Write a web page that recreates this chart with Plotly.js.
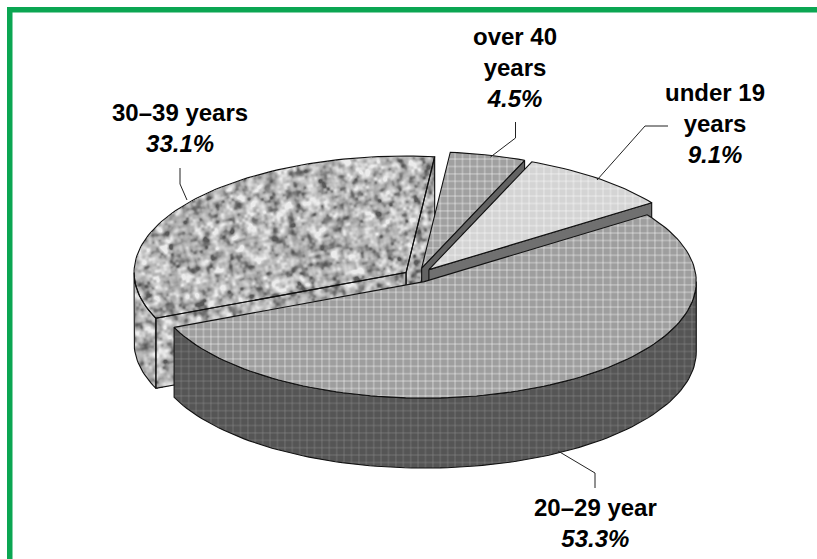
<!DOCTYPE html>
<html><head><meta charset="utf-8">
<script src="https://cdn.plot.ly/plotly-3.0.1.min.js"></script>
<style>html,body{margin:0;padding:0;background:#fff}#c{width:817px;height:559px}</style></head>
<body><div id="c"></div>
<script>
// Data
const categories = ['20–29 year', '30–39 years', 'over 40 years', 'under 19 years'];
const percentages = [53.3, 33.1, 4.5, 9.1];
const labelLines = ['20–29 year', '30–39 years', 'over 40<br>years', 'under 19<br>years'];
const explodeBy = [0.055, 0.05, 0.07, 0.07];

// Pie projection, in pixel-mapped axis units
const CX = 417, CY = 276, RX = 272, RY = 116.5, DEPTH = 70, START = -35;
const INK = '#111';
const rad = d => d * Math.PI / 180;

// Slice geometry from the values
let acc = START;
const slices = percentages.map((p, i) => {
  const a0 = acc, a1 = acc + p * 3.6; acc = a1;
  const mid = rad((a0 + a1) / 2);
  return {i, a0, a1, ax: CX + explodeBy[i] * RX * Math.cos(mid), ay: CY + explodeBy[i] * RY * Math.sin(mid)};
});
const pt = (s, a, dz = 0) => [s.ax + RX * Math.cos(rad(a)), s.ay + RY * Math.sin(rad(a)) + dz];
function arc(s, a0, a1, dz = 0) {
  const n = Math.max(2, Math.ceil(Math.abs(a1 - a0) / 1.5)), out = [];
  for (let k = 0; k <= n; k++) out.push(pt(s, a0 + (a1 - a0) * k / n, dz));
  return out;
}
const topFace = s => [[s.ax, s.ay], ...arc(s, s.a0, s.a1), [s.ax, s.ay]];
const outerSide = (s, a0, a1) => { const p = [...arc(s, a0, a1), ...arc(s, a1, a0, DEPTH)]; p.push(p[0]); return p; };
const cutFace = (s, a) => {
  const e = pt(s, a);
  return [[s.ax, s.ay], e, [e[0], e[1] + DEPTH], [s.ax, s.ay + DEPTH], [s.ax, s.ay]];
};

function poly(p, color, pattern) {
  const t = {type: 'scatter', mode: 'lines', x: p.map(q => q[0]), y: p.map(q => q[1]),
    line: {color: INK, width: 1.1}, hoverinfo: 'skip', showlegend: false};
  if (color) {
    t.fill = 'toself'; t.fillcolor = color;
    if (pattern) t.fillpattern = {shape: '+', bgcolor: color, fgcolor: pattern[0], size: 7.4, solidity: pattern[1]};
  }
  return t;
}

const [sMain, sMid, sOld, sYoung] = slices;

// Speckled stone texture for the 30–39 slice: smooth lattice noise on a pixel raster
const facesMid = [topFace(sMid), outerSide(sMid, sMid.a0, 180), cutFace(sMid, sMid.a0), cutFace(sMid, sMid.a1)];
const inside = (p, x, y) => {
  let c = false;
  for (let i = 0, j = p.length - 1; i < p.length; j = i++) {
    if ((p[i][1] > y) !== (p[j][1] > y) && x < (p[j][0] - p[i][0]) * (y - p[i][1]) / (p[j][1] - p[i][1]) + p[i][0]) c = !c;
  }
  return c;
};
const hash = (i, j) => { const v = Math.sin(i * 127.1 + j * 311.7) * 43758.5453; return v - Math.floor(v); };
const sm = t => t * t * (3 - 2 * t);
function vnoise(x, y) {
  const i = Math.floor(x), j = Math.floor(y), fx = sm(x - i), fy = sm(y - j);
  const a = hash(i, j), b = hash(i + 1, j), c = hash(i, j + 1), d = hash(i + 1, j + 1);
  return (a + (b - a) * fx) * (1 - fy) + (c + (d - c) * fx) * fy;
}
function rotNoise(x, y, deg, scale, off) {
  const c = Math.cos(rad(deg)), s = Math.sin(rad(deg));
  return vnoise((x * c - y * s) / scale + off, (x * s + y * c) / scale + off * 0.7);
}
const gx = [], gy = [], gz = [];
for (let x = 130; x <= 440; x++) gx.push(x);
for (let y = 150; y <= 395; y++) gy.push(y);
for (const y of gy) {
  gz.push(gx.map(x => {
    if (!facesMid.some(f => inside(f, x, y))) return null;
    return 0.36 * rotNoise(x, y, 31, 6.5, 3) + 0.36 * rotNoise(x, y, -38, 5.5, 11) + 0.28 * rotNoise(x, y, 12, 3.2, 23);
  }));
}
const speckle = {type: 'heatmap', x: gx, y: gy, z: gz, zmin: 0.22, zmax: 0.76, showscale: false, hoverinfo: 'skip',
  colorscale: [[0, '#585858'], [0.4, '#a6a6a6'], [0.7, '#c8c8c8'], [1, '#ececec']]};

const traces = [
  speckle,
  poly(facesMid[3]), poly(facesMid[2]), poly(facesMid[1]), poly(facesMid[0]),
  poly(cutFace(sOld, sOld.a1), '#636363'),
  poly(topFace(sOld), '#a0a0a0', ['#ffffff', 0.13]),
  poly(cutFace(sYoung, sYoung.a1), '#707070'),
  poly(topFace(sYoung), '#d4d4d4', ['#ffffff', 0.13]),
  poly(outerSide(sMain, Math.max(sMain.a0, 0), sMain.a1), '#555555', ['#8c8c8c', 0.13]),
  poly(topFace(sMain), '#9e9e9e', ['#ffffff', 0.13])
];

const lbl = (i, x, y) => ({
  xref: 'x', yref: 'y', x, y, xanchor: 'center', yanchor: 'top', showarrow: false, align: 'center',
  borderpad: 0, text: `<b>${labelLines[i]}</b><br><b><i>${percentages[i].toFixed(1)}%</i></b>`,
  font: {family: 'Liberation Sans, Arial, sans-serif', size: 24, color: '#000'}
});
const seg = (x0, y0, x1, y1) => ({type: 'line', xref: 'x', yref: 'y', x0, y0, x1, y1, line: {color: '#222', width: 1}});
const band = (x0, y0, x1, y1) => ({type: 'rect', xref: 'x', yref: 'y', x0, y0, x1, y1, line: {width: 0}, fillcolor: '#0ba652'});

const layout = {
  width: 817, height: 559, margin: {l: 0, r: 0, t: 0, b: 0}, paper_bgcolor: '#fff', plot_bgcolor: '#fff', showlegend: false,
  xaxis: {range: [0, 817], visible: false, fixedrange: true},
  yaxis: {range: [559, 0], visible: false, fixedrange: true},
  shapes: [
    band(7, 7, 817, 12.5), band(7, 7, 12.5, 559),
    seg(180, 168, 180, 184), seg(180, 184, 187, 200),
    seg(515.5, 122, 515.5, 138), seg(515.5, 138, 490.5, 157),
    seg(668, 126, 645, 126), seg(645, 126, 597, 180),
    seg(558, 451, 595, 473), seg(595, 473, 595, 488)
  ],
  annotations: [lbl(0, 595, 493), lbl(1, 179.5, 98), lbl(2, 515, 22), lbl(3, 715, 78)]
};
Plotly.newPlot('c', traces, layout, {displayModeBar: false, staticPlot: true});
</script></body></html>
